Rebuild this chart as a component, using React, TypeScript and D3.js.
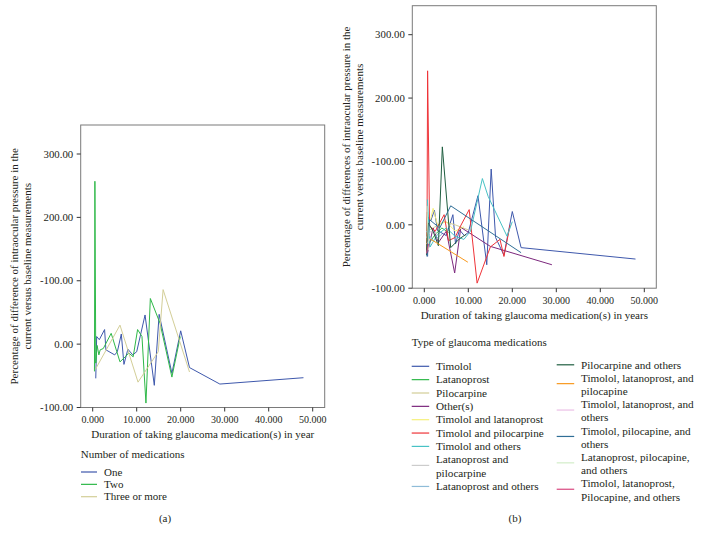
import React from "react";
import * as d3 from "d3";

type Pt = [number, number];

// ---------- Panel (a): number of medications ----------
const medOne: Pt[] = [
  [0.7, -54], [0.9, 12], [1.5, 7], [2.7, 23], [3.0, -9], [5.0, -17], [5.6, -12],
  [6.5, 16], [7.1, -32], [8.0, -8], [9.1, -17], [10.0, -12], [11.9, 46], [14.0, -65],
  [15.1, 47], [18.0, -46], [20.0, 21], [22.0, -37], [28.9, -63], [47.9, -53],
];
const medTwo: Pt[] = [
  [0.4, -43], [0.5, 257], [0.7, -30], [1.0, -2], [1.4, -17], [1.7, -9], [2.4, -7],
  [4.2, 17], [6.2, -28], [7.4, -20], [8.2, -14], [9.2, -20], [10.2, 23], [11.2, 12],
  [12.1, -93], [13.1, 72], [15.3, 33], [18.0, -52], [19.9, 12],
];
const medThree: Pt[] = [
  [0.6, -40], [6.2, 30], [10.3, -60], [14.9, -12], [16.0, 86], [22.0, -44],
];
const medNames = ["One", "Two", "Three or more"];
const medColors = ["#3E58AC", "#2EB848", "#D3CE97"];

// ---------- Panel (b): type of glaucoma medications ----------
const timolol: Pt[] = [
  [0.75, -50], [0.9, 12], [1.5, 7], [2.3, 23], [3.0, -9], [5.0, -17], [6.5, 16],
  [7.1, -30], [8.0, -8], [9.1, -17], [10.0, -12], [12.2, 46], [14.2, -63], [15.2, 88],
  [16.2, -20], [18.1, -48], [20.0, 21], [22.0, -36], [48.0, -54],
];
const latanoprost: Pt[] = [[0.5, -40], [0.7, 20], [1.0, -30], [2.5, -15], [4.0, -5], [5.5, -12]];
const pilocarpine: Pt[] = [[0.6, -10], [2.0, -5], [4.5, 5], [7.0, 0], [10.0, -8]];
const otherMeds: Pt[] = [
  [0.7, -45], [2.0, -5], [3.2, -28], [5.0, -10], [6.9, -76], [8.3, -4], [15.0, -34], [29.0, -63],
];
const timLat: Pt[] = [[0.6, 0], [1.5, 10], [2.0, 26], [3.0, 0], [5.0, 5], [7.0, -10], [9.0, -3]];
const timPilo: Pt[] = [
  [0.6, -42], [0.75, 243], [1.2, -2], [2.5, -10], [4.5, 16], [5.5, -25], [7.0, -20],
  [8.0, -5], [10.2, 24], [12.0, -92], [15.0, -35], [17.2, -23], [18.1, -50], [19.5, 0],
];
const timOthers: Pt[] = [
  [0.7, 40], [1.3, -35], [3.0, -15], [5.0, -5], [7.0, -18], [9.0, -23], [10.5, -10],
  [13.2, 73], [14.5, 45], [18.8, -18], [20.0, 5],
];
const latPilo: Pt[] = [[0.5, -20], [1.5, -10], [3.0, -15]];
const latOthers: Pt[] = [[0.5, -10], [2.0, -25], [4.0, -15]];
const piloOthers: Pt[] = [
  [0.5, -48], [0.9, 3], [2.0, -10], [3.2, -33], [4.1, 123], [6.0, -36], [8.0, -22], [9.5, -15],
];
const timLatPilo: Pt[] = [[0.5, -30], [1.3, -22], [9.9, -59]];
const timLatOthers: Pt[] = [[0.6, -30], [1.5, -20]];
const timPiloOthers: Pt[] = [[0.6, -50], [1.2, 8], [3.5, -5], [6.0, 30], [22.0, -44]];
const latPiloOthers: Pt[] = [[0.6, 30], [1.0, -40]];
const allFour: Pt[] = [[0.5, -45], [1.0, -30]];

const typeNames: string[][] = [
  ["Timolol"], ["Latanoprost"], ["Pilocarpine"], ["Other(s)"], ["Timolol and latanoprost"],
  ["Timolol and pilocarpine"], ["Timolol and others"], ["Latanoprost and", "pilocarpine"],
  ["Latanoprost and others"], ["Pilocarpine and others"], ["Timolol, latanoprost, and", "pilocapine"],
  ["Timolol, latanoprost, and", "others"], ["Timolol, pilocapine, and", "others"],
  ["Latanoprost, pilocapine,", "and others"], ["Timolol, latanoprost,", "Pilocapine, and others"],
];
const typeColors = [
  "#3E58AC", "#2EB848", "#D3CE97", "#7C287D", "#F5F07A", "#EF3338", "#48C2C5", "#CCCCCC",
  "#8FBCD8", "#1F5E40", "#F8981D", "#EBC0E6", "#2F6E96", "#D2EDC8", "#D9477F",
];
const typeSeries: Pt[][] = [
  timolol, latanoprost, pilocarpine, otherMeds, timLat, timPilo, timOthers, latPilo,
  latOthers, piloOthers, timLatPilo, timLatOthers, timPiloOthers, latPiloOthers, allFour,
];

const yTickValues = [-100, 0, 100, 200, 300];
const yTickLabels = ["-100.00", "0.00", "-100.00", "200.00", "300.00"];
const xTickValues = [0, 10, 20, 30, 40, 50];

const FONT = "'Liberation Serif', 'Times New Roman', serif";
const FRAME_W = 244;
const FRAME_H = 282.5;
const TEXT = "#231F20";

function Panel(props: {
  left: number; top: number; series: Pt[][]; colors: string[];
  xTitle: string; yTitle: string[];
}) {
  const { left, top, series, colors, xTitle, yTitle } = props;
  const bottom = top + FRAME_H;
  const x = d3.scaleLinear().domain([0, 50]).range([left + 12, left + 232]);
  const y = d3.scaleLinear().domain([-100, 300]).range([bottom, top + 29]);
  const line = d3.line<Pt>().x((d) => x(d[0])).y((d) => y(d[1]));
  const fmtX = d3.format(".3f");
  const cy = top + FRAME_H / 2;
  return (
    <g>
      <rect x={left} y={top} width={FRAME_W} height={FRAME_H} fill="none" stroke="#7a7a7a" strokeWidth={1} />
      <g clipPath={undefined}>
        {series.map((s, i) => (
          <path key={i} d={line(s) || ""} fill="none" stroke={colors[i]} strokeWidth={1} strokeLinejoin="round" />
        ))}
      </g>
      {yTickValues.map((v, i) => (
        <g key={"y" + i}>
          <line x1={left - 4} x2={left} y1={y(v)} y2={y(v)} stroke="#333" strokeWidth={1} />
          <text x={left - 7.5} y={y(v) + 3.7} textAnchor="end" fontSize={10.8} fontFamily={FONT} fill={TEXT}>
            {yTickLabels[i]}
          </text>
        </g>
      ))}
      {xTickValues.map((v, i) => (
        <g key={"x" + i}>
          <line x1={x(v)} x2={x(v)} y1={bottom} y2={bottom + 4} stroke="#333" strokeWidth={1} />
          <text x={x(v)} y={bottom + 15.7} textAnchor="middle" fontSize={10} fontFamily={FONT} fill={TEXT}>
            {fmtX(v)}
          </text>
        </g>
      ))}
      <text x={left + FRAME_W / 2} y={bottom + 30.6} textAnchor="middle" fontSize={11} fontFamily={FONT} fill={TEXT}>
        {xTitle}
      </text>
      {yTitle.map((t, i) => (
        <text
          key={"yt" + i}
          transform={`translate(${left - 62.5 + i * 13},${cy}) rotate(-90)`}
          textAnchor="middle" fontSize={11} fontFamily={FONT} fill={TEXT}
        >
          {t}
        </text>
      ))}
    </g>
  );
}

export default function App() {
  // legend (b) layout
  const leftRows: { lines: string[]; color: string; y: number }[] = [];
  const rightRows: { lines: string[]; color: string; y: number }[] = [];
  let ly = 366.3;
  let ry = 364.8;
  typeNames.forEach((lines, i) => {
    if (i < 9) {
      leftRows.push({ lines, color: typeColors[i], y: ly });
      ly += lines.length * 13.35;
    } else {
      rightRows.push({ lines, color: typeColors[i], y: ry });
      ry += lines.length * 13.2;
    }
  });
  const renderRow = (r: { lines: string[]; color: string; y: number }, lx: number, tx: number, k: string) => {
    const sampleY = r.y + ((r.lines.length - 1) * 13.3) / 2 - (r.lines.length > 1 ? 1 : 0);
    return (
      <g key={k}>
        <line x1={lx} x2={lx + 17.5} y1={sampleY} y2={sampleY} stroke={r.color} strokeWidth={1.2} />
        {r.lines.map((t, j) => (
          <text key={j} x={tx} y={r.y + j * 13.3 + 3.7} fontSize={11.2} fontFamily={FONT} fill={TEXT}>
            {t}
          </text>
        ))}
      </g>
    );
  };

  return (
    <svg
      width={701}
      height={540}
      style={{ position: "absolute", left: 0, top: 0, background: "#fff" }}
    >
      <rect x={0} y={0} width={701} height={540} fill="#fff" />
      <Panel
        left={80.7}
        top={125}
        series={[medOne, medTwo, medThree]}
        colors={medColors}
        xTitle="Duration of taking glaucoma medication(s) in year"
        yTitle={["Percentage of difference of intraocular pressure in the", "current versus baseline measurements"]}
      />
      <Panel
        left={412.3}
        top={5.7}
        series={typeSeries}
        colors={typeColors}
        xTitle="Duration of taking glaucoma medication(s) in years"
        yTitle={["Percentage of differences of intraocular pressure in the", "current versus baseline measurements"]}
      />
      {/* legend (a) */}
      <text x={80.7} y={457.7} fontSize={11} fontFamily={FONT} fill={TEXT}>Number of medications</text>
      {medNames.map((n, i) => (
        <g key={n}>
          <line x1={81} x2={97} y1={472 + i * 12.35} y2={472 + i * 12.35} stroke={medColors[i]} strokeWidth={1.2} />
          <text x={104} y={472 + i * 12.35 + 3.7} fontSize={11} fontFamily={FONT} fill={TEXT}>{n}</text>
        </g>
      ))}
      <text x={165} y={521.5} textAnchor="middle" fontSize={11} fontFamily={FONT} fill={TEXT}>(a)</text>

      {/* legend (b) */}
      <text x={411.7} y={346.4} fontSize={11} fontFamily={FONT} fill={TEXT}>Type of glaucoma medications</text>
      {leftRows.map((r, i) => renderRow(r, 411.7, 436, "l" + i))}
      {rightRows.map((r, i) => renderRow(r, 556.7, 581, "r" + i))}
      <text x={515} y={522} textAnchor="middle" fontSize={11} fontFamily={FONT} fill={TEXT}>(b)</text>
    </svg>
  );
}
